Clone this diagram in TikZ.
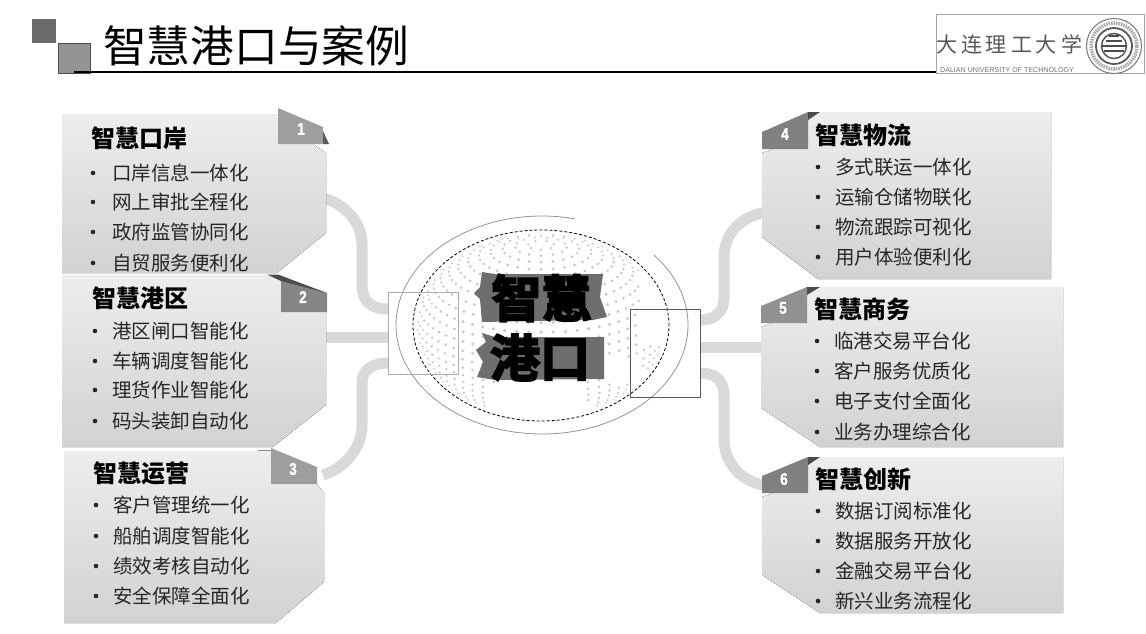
\documentclass[tikz,border=0pt]{standalone}
\usepackage{fontspec}
\setmainfont{Noto Sans CJK SC}
\newfontfamily\cjkfat[FakeBold=4]{Noto Sans CJK SC Bold}
\newfontfamily\latnum{Liberation Sans}
\newfontfamily\latnumb[FakeBold=1.5]{Liberation Sans Bold}
\tikzset{
  band/.style={draw=bandgrey,line width=11pt,line cap=butt},
  bodybox/.style={top color=boxtop,bottom color=boxbot,draw=none},
  heading/.style={anchor=west,inner sep=0pt,font=\fontsize{24}{24}\selectfont\bfseries,text=black},
  itemtext/.style={anchor=west,inner sep=0pt,font=\fontsize{19.5}{20}\selectfont,text=textdark},
  bulletdot/.style={circle,fill=textdark,inner sep=0pt,minimum size=4.6pt},
  numlabel/.style={inner sep=0pt,font=\fontsize{17}{17}\latnumb,text=white},
  fat/.style={inner sep=0pt,font=\fontsize{50}{50}\cjkfat\selectfont},
}
\newcommand{\narrownum}[1]{\scalebox{.8}[1]{#1}}
\definecolor{bandgrey}{HTML}{D9D9D9}
\definecolor{boxtop}{HTML}{EDEDED}
\definecolor{boxbot}{HTML}{D2D2D2}
\definecolor{textdark}{HTML}{262626}
\definecolor{fatgrey}{HTML}{6E6E6E}
\begin{document}
\begin{tikzpicture}[x=1pt,y=-1pt]
\useasboundingbox (0,0) rectangle (1146,633);
\fill[white] (0,0) rectangle (1146,633);
% header
\fill[fill=black!58] (32,19) rectangle (56,43);
\draw[fill=black!42,draw=black!70,line width=1pt] (58.5,43.5) rectangle (90,73);
\draw[black,line width=1.6pt] (74,72) -- (936,72);
\node[anchor=west,inner sep=0pt,font=\fontsize{43.7}{44}\selectfont] (title) at (103,46) {智慧港口与案例};
% logo
\draw[black!35,line width=.7pt] (936,14.5) rectangle (1144,73);
\node[inner sep=0pt,font=\fontsize{21}{21}\selectfont,text=black!65] (logotext) at (1009,44) {大\hspace{4pt}连\hspace{4pt}理\hspace{4pt}工\hspace{4pt}大\hspace{4pt}学};
\node[inner sep=0pt,font=\fontsize{7.1}{8}\latnum,text=black!55] (logosub) at (1007,70) {DALIAN UNIVERSITY OF TECHNOLOGY};
\coordinate (seal) at (1114,46);
\draw[black!50,line width=1.1pt] (seal) circle[radius=27.5pt];
\draw[black!35,line width=3.5pt,dash pattern=on 1.5pt off 1pt] (seal) circle[radius=23pt];
\draw[black!65,line width=1.8pt] (seal) circle[radius=18pt];
\draw[black!65,line width=1.5pt] (seal) circle[radius=12.5pt];
\draw[black!70,line width=1.5pt] (1102,46) -- (1126,46);
\draw[black!70,line width=1.3pt] (1104,51) -- (1124,51);
\draw[black!70,line width=1.3pt] (1106,41) -- (1122,41);
\draw[black!70,line width=1.3pt] (1109,36) -- (1119,36);
% connector ends
\coordinate (L1a) at (320,197); \coordinate (L1b) at (362,245); \coordinate (L1c) at (362,285); \coordinate (L1d) at (388,309);
\coordinate (L2a) at (320,337); \coordinate (L2b) at (388,337);
\coordinate (L3a) at (323,475); \coordinate (L3b) at (362,425); \coordinate (L3c) at (362,383); \coordinate (L3d) at (388,363);
\coordinate (R4a) at (767,212); \coordinate (R4b) at (724,258); \coordinate (R4c) at (724,298); \coordinate (R4d) at (700,320);
\coordinate (R5a) at (700,347); \coordinate (R5b) at (767,347);
\coordinate (R6a) at (700,373); \coordinate (R6b) at (724,395); \coordinate (R6c) at (724,438); \coordinate (R6d) at (767,486);
\draw[band] (L1a) .. controls (345,203) and (362,222) .. (L1b) -- (L1c) .. controls (362,302) and (372,309) .. (L1d);
\draw[band] (L2a) -- (L2b);
\draw[band] (L3d) .. controls (372,363) and (362,370) .. (L3c) -- (L3b) .. controls (362,448) and (345,468) .. (L3a);
\draw[band] (R4a) .. controls (742,216) and (724,232) .. (R4b) -- (R4c) .. controls (724,312) and (715,320) .. (R4d);
\draw[band] (R5a) -- (R5b);
\draw[band] (R6a) .. controls (715,373) and (724,380) .. (R6b) -- (R6c) .. controls (724,464) and (742,482) .. (R6d);
% left boxes
\fill[bodybox] (62,114) -- (278,114) -- (278,144) -- (313,144) -- (326,153) -- (326,233) -- (277,273) -- (62,273) -- cycle;
\fill[black!38] (278,108) -- (323,127) -- (323,144) -- (278,144) -- cycle;
\fill[black!65] (323,131) -- (329,144) -- (323,144) -- cycle;
\fill[bodybox] (62,275) -- (281,275) -- (281,312) -- (326,312) -- (326,405) -- (273,447) -- (62,447) -- cycle;
\fill[black!48] (281,278) -- (327,293) -- (327,312) -- (281,312) -- cycle;
\fill[black!70] (267,274.5) -- (278,274.5) -- (327,293) -- (281,281) -- cycle;
\fill[bodybox] (64,451) -- (271,451) -- (271,484) -- (317,484) -- (324,493) -- (324,582) -- (276,623) -- (64,623) -- cycle;
\fill[black!38] (271,448) -- (317,467) -- (317,484) -- (271,484) -- cycle;
\draw[black!45,line width=.7pt] (258,450) -- (271,450);
% right boxes
\fill[bodybox] (808,112) -- (1051,112) -- (1051,279) -- (818,279) -- (762,237) -- (762,153) -- (773,149) -- (808,149) -- cycle;
\fill[black!50] (762,132) -- (808,112) -- (808,149) -- (762,149) -- cycle;
\fill[black!70] (808,120) -- (808,112) -- (820,112) -- cycle;
\fill[bodybox] (807,287) -- (1063,287) -- (1063,447) -- (820,447) -- (761,408) -- (761,327) -- (772,323) -- (807,323) -- cycle;
\fill[black!43] (761,306) -- (807,287) -- (807,323) -- (761,323) -- cycle;
\fill[black!70] (807,295) -- (807,287) -- (820,287) -- cycle;
\fill[bodybox] (808,457) -- (1063,457) -- (1063,613) -- (820,613) -- (762,575) -- (762,497) -- (773,493) -- (808,493) -- cycle;
\fill[black!50] (762,476) -- (808,457) -- (808,493) -- (762,493) -- cycle;
\fill[black!70] (808,465) -- (808,457) -- (820,457) -- cycle;
% numbers
\node[numlabel] (n1) at (301,129) {\narrownum{1}};
\node[numlabel] (n2) at (303,297) {\narrownum{2}};
\node[numlabel] (n3) at (293,469) {\narrownum{3}};
\node[numlabel] (n4) at (785,134) {\narrownum{4}};
\node[numlabel] (n5) at (783,308) {\narrownum{5}};
\node[numlabel] (n6) at (784,479) {\narrownum{6}};
% headings
\node[heading] (h1) at (91,138) {智慧口岸};
\node[heading] (h2) at (92,298) {智慧港区};
\node[heading] (h3) at (93,473) {智慧运营};
\node[heading] (h4) at (815,135) {智慧物流};
\node[heading] (h5) at (814,309) {智慧商务};
\node[heading] (h6) at (815,479) {智慧创新};
% items
\foreach \y/\t [count=\i] in {173/口岸信息一体化,202/网上审批全程化,232/政府监管协同化,263/自贸服务便利化}{
  \node[bulletdot] (a\i b) at (93,\y) {}; \node[itemtext] (a\i) at (112,\y) {\t};}
\foreach \y/\t [count=\i] in {331/港区闸口智能化,361/车辆调度智能化,390/理货作业智能化,421/码头装卸自动化}{
  \node[bulletdot] (c\i b) at (95,\y) {}; \node[itemtext] (c\i) at (112,\y) {\t};}
\foreach \y/\t [count=\i] in {505/客户管理统一化,536/船舶调度智能化,566/绩效考核自动化,596/安全保障全面化}{
  \node[bulletdot] (d\i b) at (96,\y) {}; \node[itemtext] (d\i) at (113,\y) {\t};}
\foreach \y/\t [count=\i] in {167/多式联运一体化,197/运输仓储物联化,227/物流跟踪可视化,257/用户体验便利化}{
  \node[bulletdot] (e\i b) at (818,\y) {}; \node[itemtext] (e\i) at (835,\y) {\t};}
\foreach \y/\t [count=\i] in {341/临港交易平台化,371/客户服务优质化,401/电子支付全面化,432/业务办理综合化}{
  \node[bulletdot] (f\i b) at (817,\y) {}; \node[itemtext] (f\i) at (834,\y) {\t};}
\foreach \y/\t [count=\i] in {511/数据订阅标准化,541/数据服务开放化,571/金融交易平台化,601/新兴业务流程化}{
  \node[bulletdot] (g\i b) at (818,\y) {}; \node[itemtext] (g\i) at (835,\y) {\t};}
% globe dots
\pgfmathsetmacro{\ct}{cos(28)}\pgfmathsetmacro{\st}{sin(28)}
\foreach \la in {-72,-66,...,84}{
  \pgfmathtruncatemacro{\nn}{max(6,round(64*cos(\la)))}
  \foreach \k in {1,...,\nn}{
    \pgfmathsetmacro{\lo}{\k/\nn*360}
    \pgfmathsetmacro{\px}{cos(\la)*sin(\lo)}
    \pgfmathsetmacro{\py}{sin(\la)*\ct-cos(\la)*cos(\lo)*\st}
    \pgfmathsetmacro{\pz}{sin(\la)*\st+cos(\la)*cos(\lo)*\ct}
    % continents: keep only the parts of the sphere that carry dots
    \pgfmathtruncatemacro{\hide}{or(\pz<0.08,
      or(\py<-0.88,
      or(and(\px>0.8,\py>-0.22),
      or(and(\px>0.55,and(\px<0.8,and(\py<-0.35,\py>-0.62))),
      or(and(\px>0.72,\py<-0.5),
      or(and(\px>-0.42,and(\px<0.38,\py<-0.62)),0))))))}
    \ifnum\hide=0
      \pgfmathsetmacro{\rr}{0.95+0.85*\pz}
      \fill[black!21] ({541+124*\px},{326-92*\py}) circle[radius=\rr pt];
    \fi
  }
}
% rings
\draw[black!42,line width=.8pt] plot[smooth,domain=-40:283,samples=120] ({542+146*cos(\x)},{325+109*sin(\x)});
\draw[black,line width=.8pt,dash pattern=on 3pt off 2pt] (541,325.5) ellipse[x radius=128pt,y radius=95.5pt];
% centre word: grey silhouettes behind the black letters
\fill[fatgrey] (482,272) -- (495,274) -- (603,274) -- (600,297) -- (607,317) -- (593,320) -- (482,322) -- (480,299) -- (474,293) -- (480,287) -- cycle;
\fill[fatgrey] (482,333) -- (495,337) -- (604,337) -- (604,379) -- (495,380) -- (477,377) -- (483,362) -- (476,350) -- (486,342) -- cycle;
\node[fat,text=black] (w1) at (541.5,298) {智慧};
\node[fat,text=black] (w2) at (540,357.5) {港口};
% frames
\draw[black!32,line width=.7pt] (388,292) rectangle (458,374);
\draw[black!65,line width=1pt] (630,309) rectangle (700,397);
\end{tikzpicture}
\end{document}
